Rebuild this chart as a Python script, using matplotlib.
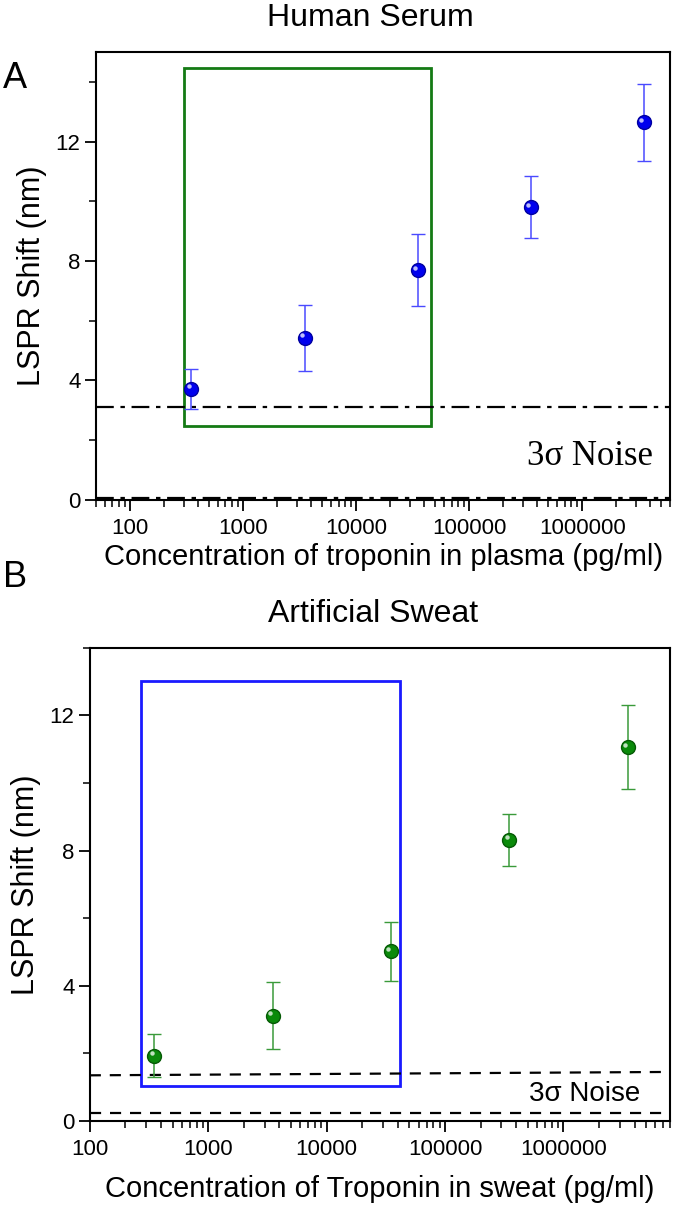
import matplotlib
matplotlib.use("Agg")
import matplotlib.pyplot as plt
from matplotlib.patches import Rectangle
from matplotlib.ticker import LogLocator, FixedLocator, NullFormatter
from matplotlib.transforms import ScaledTranslation

plt.rcParams['font.family'] = ['Liberation Sans', 'DejaVu Sans']

# Panel A: human serum
conc_a = [350, 3500, 35000, 350000, 3500000]
shift_a = [3.71, 5.42, 7.69, 9.80, 12.64]
err_a = [0.68, 1.10, 1.20, 1.04, 1.30]
noise_a = [3.1, 0.05]
box_a = (300, 46000, 2.47, 14.48)   # x0, x1, y0, y1

# Panel B: artificial sweat
conc_b = [350, 3500, 35000, 350000, 3500000]
shift_b = [1.93, 3.12, 5.02, 8.32, 11.06]
err_b = [0.64, 0.99, 0.88, 0.77, 1.25]
noise_b_hi = (1.35, 1.45)   # slight slope from left to right
noise_b_lo = 0.24
box_b = (270, 42000, 1.02, 13.02)

xticks = [100, 1000, 10000, 100000, 1000000]
xtick_labels = ['100', '1000', '10000', '100000', '1000000']
yticks = [0, 4, 8, 12]

fig = plt.figure(figsize=(6.75, 12.1), dpi=100)
axA = fig.add_axes([0.142, 0.587, 0.851, 0.370])
axB = fig.add_axes([0.133, 0.0736, 0.860, 0.391])


def style_axis(ax, xlim, ylim):
    ax.set_xscale('log')
    ax.set_xlim(*xlim)
    ax.set_ylim(*ylim)
    ax.xaxis.set_major_locator(FixedLocator(xticks))
    ax.set_xticklabels(xtick_labels)
    ax.xaxis.set_minor_locator(LogLocator(base=10, subs=range(2, 10), numticks=20))
    ax.xaxis.set_minor_formatter(NullFormatter())
    ax.set_yticks(yticks)
    ax.set_yticks([2, 6, 10, 14], minor=True)
    ax.tick_params(which='major', direction='out', length=8, width=1.3,
                   labelsize=16, pad=5, top=False, right=False)
    ax.tick_params(which='minor', direction='out', length=5, width=1.1,
                   top=False, right=False)
    ax.tick_params(axis='y', pad=3)
    for s in ax.spines.values():
        s.set_linewidth(1.5)


def balls(ax, x, y, err, face, edge, bar):
    ax.errorbar(x, y, yerr=err, fmt='o', color=face, ms=10, mec=edge, mew=1,
                ecolor=bar, elinewidth=1.1, capsize=5, capthick=1.1, zorder=3)
    # small glossy highlight, like the shaded spheres of the original
    shift = ScaledTranslation(-1.8 / 72, 1.8 / 72, fig.dpi_scale_trans)
    ax.plot(x, y, 'o', ms=3.2, color='white', alpha=0.75, mew=0,
            transform=ax.transData + shift, zorder=4)


# ---- Panel A ----
style_axis(axA, (50, 6e6), (0, 15.0))
balls(axA, conc_a, shift_a, err_a, '#0000ee', '#0000a0', '#4a4aff')
axA.axhline(noise_a[0], color='black', lw=1.6, ls=(0, (8, 3, 2, 3)))
axA.axhline(noise_a[1], color='black', lw=1.6, ls=(0, (8, 3, 2, 3)))
x0, x1, y0, y1 = box_a
axA.add_patch(Rectangle((x0, y0), x1 - x0, y1 - y0, fill=False,
                        edgecolor='#147a14', lw=2))
axA.text(0.97, 0.096, '3σ Noise', transform=axA.transAxes, ha='right', va='center',
         fontsize=25, family=['Liberation Serif', 'DejaVu Serif'])
axA.set_xlabel('Concentration of troponin in plasma (pg/ml)', fontsize=21, labelpad=3)
axA.set_ylabel('LSPR Shift (nm)', fontsize=22, labelpad=6)

# ---- Panel B ----
style_axis(axB, (100, 8e6), (0, 14.0))
balls(axB, conc_b, shift_b, err_b, '#0a8a0a', '#055a05', '#3a9a3a')
axB.plot([100, 8e6], noise_b_hi, color='black', lw=1.6, ls=(0, (5, 4)))
axB.axhline(noise_b_lo, color='black', lw=1.6, ls=(0, (5, 4)))
x0, x1, y0, y1 = box_b
axB.add_patch(Rectangle((x0, y0), x1 - x0, y1 - y0, fill=False,
                        edgecolor='#1a1aff', lw=2))
axB.text(0.948, 0.057, '3σ Noise', transform=axB.transAxes, ha='right', va='center',
         fontsize=20)
axB.set_xlabel('Concentration of Troponin in sweat (pg/ml)', fontsize=21, labelpad=11)
axB.set_ylabel('LSPR Shift (nm)', fontsize=22, labelpad=6)

# titles and panel letters
fig.text(0.548, 0.985, 'Human Serum', ha='center', va='center', fontsize=23)
fig.text(0.553, 0.4926, 'Artificial Sweat', ha='center', va='center', fontsize=23)
fig.text(0.022, 0.935, 'A', ha='center', va='center', fontsize=26)
fig.text(0.022, 0.523, 'B', ha='center', va='center', fontsize=26)

fig.savefig('out.png', dpi=100)
